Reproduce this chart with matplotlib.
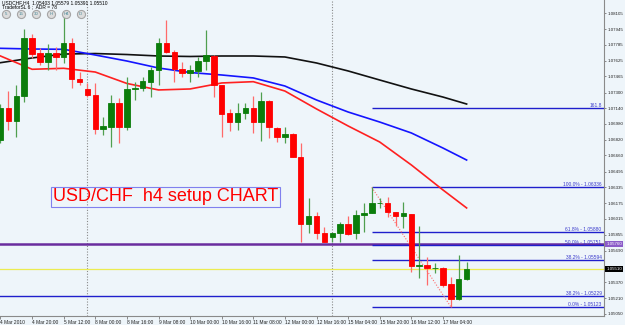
import matplotlib
matplotlib.use("Agg")
import matplotlib.pyplot as plt

# USDCHF H4 candles, 4 Mar 2010 04:00 .. 17 Mar 2010 (60 bars)
opens = [1.06818, 1.07140, 1.07014, 1.07265, 1.07851, 1.07698, 1.07613, 1.07698, 1.07658, 1.07800,
         1.07434, 1.07333, 1.07275, 1.06926, 1.06947, 1.07197, 1.06947, 1.07339, 1.07349, 1.07410,
         1.07529, 1.07800, 1.07715, 1.07536, 1.07495, 1.07522, 1.07623, 1.07671, 1.07376, 1.07095,
         1.07004, 1.07095, 1.07140, 1.07004, 1.07217, 1.06937, 1.06845, 1.06879, 1.06642, 1.05964,
         1.06045, 1.05876, 1.05829, 1.05870, 1.05964, 1.05870, 1.06056, 1.06079, 1.06174, 1.06181,
         1.06089, 1.06045, 1.06066, 1.05537, 1.05548, 1.05514, 1.05514, 1.05355, 1.05199, 1.05403]
highs = [1.07183, 1.07318, 1.07376, 1.07942, 1.07895, 1.07749, 1.07793, 1.07766, 1.08077, 1.07851,
         1.07512, 1.07394, 1.07394, 1.07048, 1.07275, 1.07241, 1.07461, 1.07410, 1.07455, 1.07562,
         1.07851, 1.08037, 1.07732, 1.07613, 1.07580, 1.07664, 1.07935, 1.07681, 1.07376, 1.07129,
         1.07190, 1.07190, 1.07265, 1.07308, 1.07224, 1.06953, 1.06947, 1.06886, 1.06790, 1.06225,
         1.06089, 1.05937, 1.05876, 1.05988, 1.06045, 1.06106, 1.06174, 1.06336, 1.06225, 1.06235,
         1.06089, 1.06191, 1.06066, 1.05944, 1.05632, 1.05565, 1.05524, 1.05423, 1.05649, 1.05579]
lows = [1.06787, 1.06919, 1.06851, 1.07207, 1.07648, 1.07580, 1.07529, 1.07529, 1.07603, 1.07343,
        1.07376, 1.07251, 1.06879, 1.06868, 1.06750, 1.06790, 1.06919, 1.07224, 1.07318, 1.07251,
        1.07376, 1.07698, 1.07410, 1.07461, 1.07410, 1.07461, 1.07529, 1.07251, 1.06851, 1.06912,
        1.06919, 1.07028, 1.06886, 1.06811, 1.06835, 1.06800, 1.06790, 1.06642, 1.05784, 1.05870,
        1.05809, 1.05784, 1.05784, 1.05784, 1.05852, 1.05809, 1.05886, 1.06079, 1.06124, 1.06038,
        1.05944, 1.05920, 1.05480, 1.05412, 1.05344, 1.05463, 1.05327, 1.05123, 1.05189, 1.05391]
closes = [1.07143, 1.07014, 1.07265, 1.07851, 1.07691, 1.07613, 1.07698, 1.07658, 1.07806, 1.07434,
          1.07407, 1.07275, 1.06926, 1.06960, 1.07197, 1.06947, 1.07333, 1.07349, 1.07417, 1.07529,
          1.07800, 1.07715, 1.07536, 1.07495, 1.07529, 1.07623, 1.07681, 1.07376, 1.07082, 1.07004,
          1.07089, 1.07140, 1.07004, 1.07217, 1.06947, 1.06845, 1.06879, 1.06642, 1.05964, 1.06045,
          1.05876, 1.05784, 1.05870, 1.05964, 1.05863, 1.06056, 1.06079, 1.06174, 1.06181, 1.06089,
          1.06045, 1.06073, 1.05537, 1.05548, 1.05514, 1.05520, 1.05344, 1.05199, 1.05403, 1.05510]

# moving averages at these bar numbers
ma_bars = [0, 4, 8, 12, 16, 20, 24, 28, 32, 36, 40, 44, 48, 52, 56, 59]
ma_black = [1.07603, 1.07651, 1.07691, 1.07696, 1.07686, 1.07671, 1.07666, 1.07671, 1.07671, 1.07661,
            1.07600, 1.07519, 1.07427, 1.07336, 1.07254, 1.07183]
ma_blue = [1.07749, 1.07742, 1.07739, 1.07681, 1.07620, 1.07549, 1.07503, 1.07478, 1.07448, 1.07366,
           1.07224, 1.07102, 1.07000, 1.06889, 1.06736, 1.06614]
ma_red = [1.07671, 1.07536, 1.07546, 1.07508, 1.07392, 1.07326, 1.07336, 1.07397, 1.07410, 1.07315,
          1.07133, 1.06960, 1.06797, 1.06564, 1.06310, 1.06127]

date_labels = ["4 Mar 2010", "4 Mar 20:00", "5 Mar 12:00", "8 Mar 00:00", "8 Mar 16:00",
               "9 Mar 08:00", "10 Mar 00:00", "10 Mar 16:00", "11 Mar 08:00", "12 Mar 00:00",
               "12 Mar 16:00", "15 Mar 04:00", "15 Mar 20:00", "16 Mar 12:00", "17 Mar 04:00"]

# 1.05530 sits under the bid box, so it is left out
price_ticks = [1.08105, 1.07945, 1.07785, 1.07625, 1.07465, 1.07300, 1.07140, 1.06980, 1.06820, 1.06660,
               1.06495, 1.06335, 1.06175, 1.06015, 1.05855, 1.05690, 1.05370, 1.05210, 1.05050]

# fibo levels: label, price, first bar (None = whole chart)
fib_labels = ["161.8", "100.0% - 1.06336", "61.8% - 1.05880", "50.0% - 1.05751",
              "38.2% - 1.05594", "38.2% - 1.05229", "0.0% - 1.05123"]
fib_prices = [1.07140, 1.06336, 1.05880, 1.05751, 1.05594, 1.05229, 1.05123]
fib_start = [47, 47, 47, 47, 47, None, 47]

purple_level = 1.05760
bid = 1.05510
separators = [11, 42]      # dotted vertical lines
fib_from = (47, 1.06336)   # fibo anchor high
fib_to = (57, 1.05123)     # fibo anchor low

bg = "#eef5fa"
fnt = "Liberation Sans"

fig = plt.figure(figsize=(6.25, 3.25), dpi=100, facecolor=bg)
ax = fig.add_axes([0, 9 / 325, 604 / 625, 316 / 325], facecolor=bg)

n = len(opens)
idx = list(range(n))
bull = [c >= o for o, c in zip(opens, closes)]
body_col = ["#0b7d0b" if b else "#ff0000" for b in bull]
wick_col = ["#4f9f4f" if b else "#ff6a6a" for b in bull]

# separators + horizontal levels first so candles sit over them
for s in separators:
    ax.axvline(s, color="#8a8a8a", lw=0.8, ls=(0, (1, 1.5)), zorder=1)
ax.axhline(bid, color="#ecec50", lw=0.9, zorder=1)
ax.axhline(purple_level, color="#6a2d9e", lw=1.8, zorder=1)

for lab, pr, st in zip(fib_labels, fib_prices, fib_start):
    x0 = -1 if st is None else st
    ax.hlines(pr, x0, 80, color="#1f1fcc", lw=1.0, zorder=2)
    ax.text(0.996, pr, lab, transform=ax.get_yaxis_transform(), ha="right", va="bottom",
            fontsize=3.5, color="#3a3acc", family=fnt, zorder=3)

ax.plot([fib_from[0], fib_to[0]], [fib_from[1], fib_to[1]], color="#ff6a6a", lw=0.8,
        ls=(0, (1, 1.5)), zorder=3)

# moving averages
ax.plot(ma_bars, ma_black, color="#111111", lw=1.2, zorder=4)
ax.plot(ma_bars, ma_blue, color="#1414ff", lw=1.2, zorder=4)
ax.plot(ma_bars, ma_red, color="#ff2020", lw=1.2, zorder=4)

# candles
ax.vlines(idx, lows, highs, colors=wick_col, lw=0.9, zorder=5)
bottoms = [min(o, c) for o, c in zip(opens, closes)]
heights = [abs(c - o) for o, c in zip(opens, closes)]
ax.bar(idx, heights, bottom=bottoms, width=0.7, color=body_col, edgecolor=body_col, lw=0.6, zorder=6)

ax.set_xlim(-0.063, 76.39)
ax.set_ylim(1.05029, 1.08240)

# price scale on the right
ax.yaxis.tick_right()
ax.set_yticks(price_ticks)
ax.set_yticklabels(["%.5f" % v for v in price_ticks], fontsize=3.2, family=fnt, color="#222222")
ax.tick_params(axis="y", length=1.5, width=0.6, pad=1, color="#777777")

ax.set_xticks(list(range(0, n, 4)))
ax.set_xticklabels(date_labels, fontsize=3.5, family=fnt, color="#222222", ha="left")
ax.tick_params(axis="x", length=2, width=0.6, pad=1.2, color="#777777")

for sp in ["left", "top"]:
    ax.spines[sp].set_visible(False)
for sp in ["right", "bottom"]:
    ax.spines[sp].set_color("#8a8a8a")
    ax.spines[sp].set_linewidth(0.8)

# price boxes on the scale
ax.text(1.004, purple_level, "%.5f" % purple_level, transform=ax.get_yaxis_transform(),
        fontsize=3.2, family=fnt, color="white", va="center", ha="left", clip_on=False, zorder=10,
        bbox=dict(boxstyle="square,pad=0.25", fc="#8c5cc8", ec="none"))
ax.text(1.004, bid, "%.5f" % bid, transform=ax.get_yaxis_transform(),
        fontsize=3.2, family=fnt, color="white", va="center", ha="left", clip_on=False, zorder=10,
        bbox=dict(boxstyle="square,pad=0.25", fc="black", ec="none"))

# header
ax.text(0.004, 0.992, "USDCHF,H4  %.5f %.5f %.5f %.5f" % (opens[-1], highs[-1], lows[-1], closes[-1]),
        transform=ax.transAxes, fontsize=3.5, family=fnt, va="center", ha="left", zorder=10)
ax.text(0.004, 0.978, "TradeforSL 6 ;  ADR = 78", transform=ax.transAxes, fontsize=3.5,
        family=fnt, va="center", ha="left", zorder=10)

# timeframe buttons
btn_labels = ["5", "15", "30", "H", "H4", "D"]
btn_x = [5.7, 21, 36, 51, 66, 80.7]
for bx, bl in zip(btn_x, btn_labels):
    ax.scatter([bx / 604], [1 - 13.7 / 316], s=34, transform=ax.transAxes, facecolor="#dcdcdc",
               edgecolor="#a5a5a5", lw=0.8, zorder=9, clip_on=False)
    ax.text(bx / 604, 1 - 13.7 / 316, bl, transform=ax.transAxes, fontsize=3.2, family=fnt,
            color="#4a8a9a", ha="center", va="center", zorder=10)

# title box
ax.text(0.274, 1 - 196.7 / 316, "USD/CHF  h4 setup CHART", transform=ax.transAxes,
        fontsize=13, family=fnt, color="#ff0000", ha="center", va="center", zorder=10,
        bbox=dict(boxstyle="square,pad=0.08", fc="none", ec="#8080ee", lw=0.8))

fig.savefig("out.png", dpi=100, facecolor=bg)
